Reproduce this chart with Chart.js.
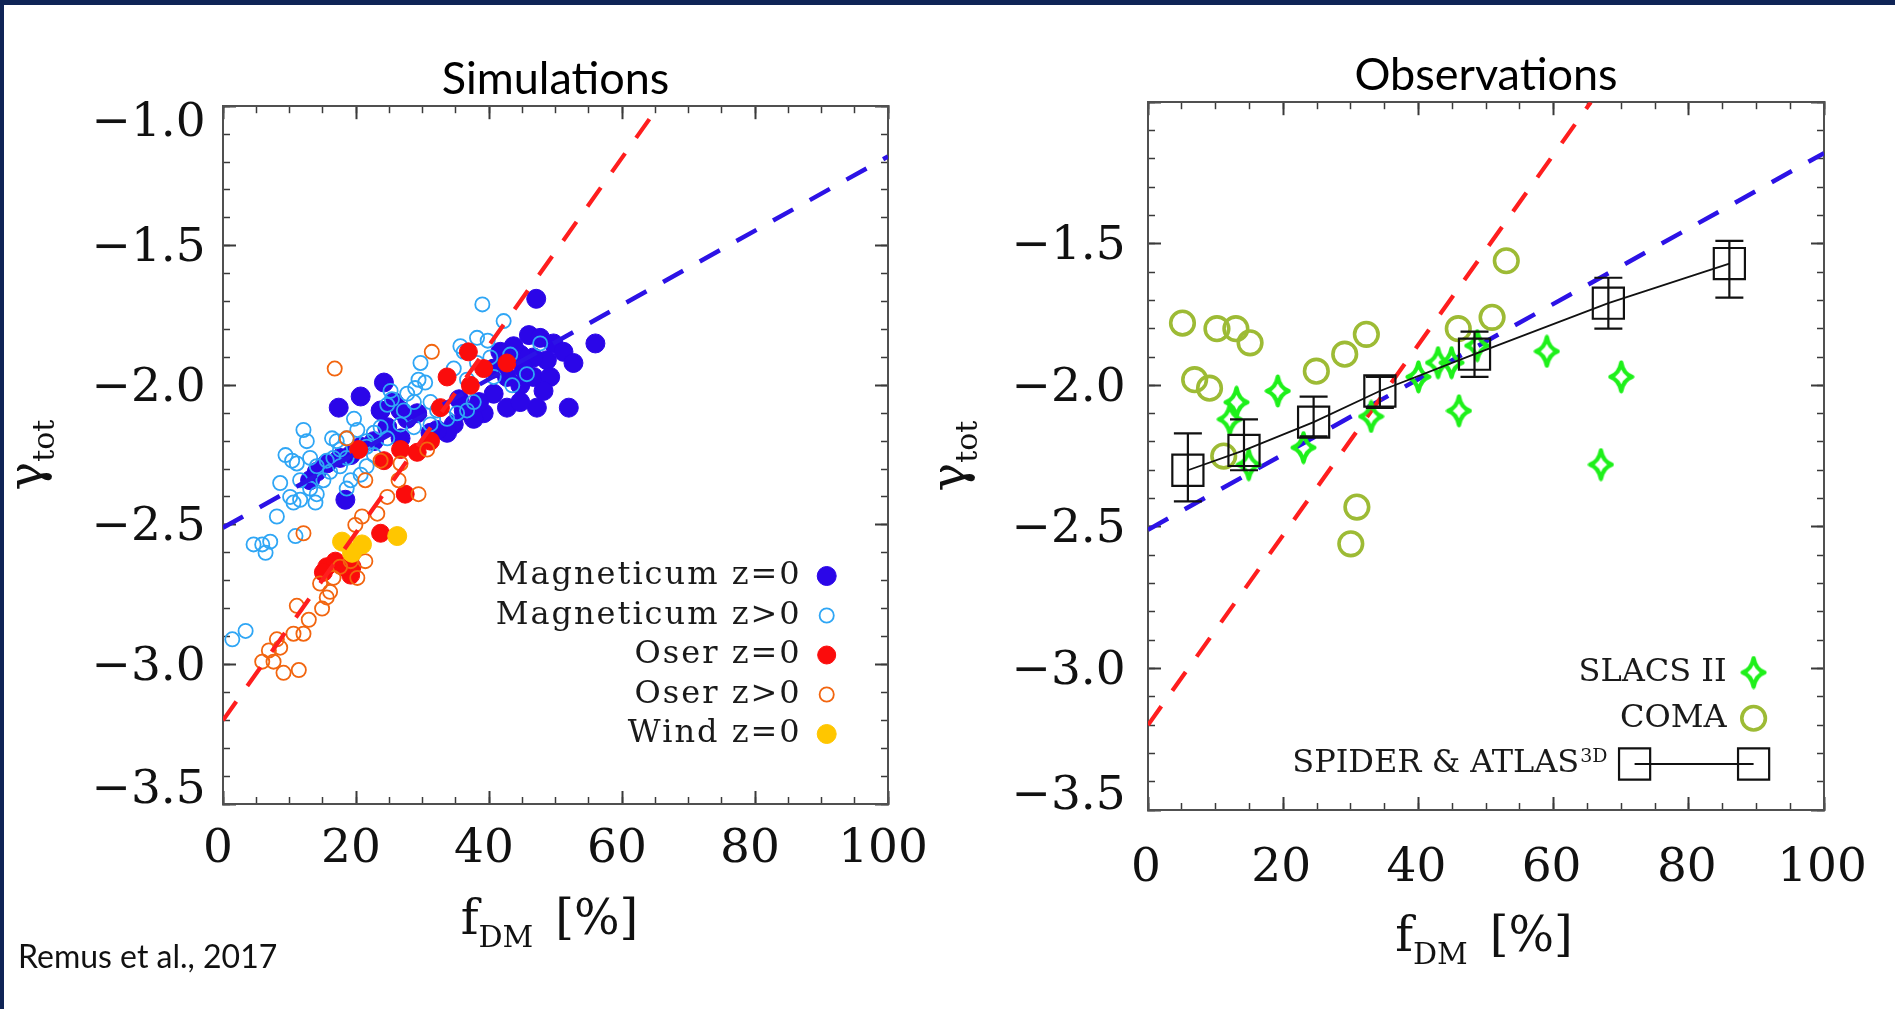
<!DOCTYPE html>
<html>
<head>
<meta charset="utf-8">
<script src="https://cdn.jsdelivr.net/npm/chart.js@4.4.1/dist/chart.umd.min.js"></script>
<style>
  html, body { margin: 0; padding: 0; background: #fff; width: 1895px; height: 1009px; overflow: hidden; }
  canvas { position: absolute; top: 0; }
  #edgeTop { position: absolute; left: 0; top: 0; width: 1895px; height: 5px; background: #0f2456; }
  #edgeLeft { position: absolute; left: 0; top: 0; width: 4px; height: 1009px; background: #0f2456; }
  #cite { position: absolute; left: 18px; top: 940px; font-family: Lato, 'Open Sans', sans-serif; font-size: 32px; line-height: 32px; color: #111; white-space: nowrap; }
</style>
</head>
<body>
<canvas id="sim" width="1000" height="1009" style="left:0"></canvas>
<canvas id="obs" width="1000" height="1009" style="left:940px"></canvas>
<div id="edgeTop"></div>
<div id="edgeLeft"></div>
<div id="cite">Remus et al., 2017</div>
<script>
// ---- axes ----
const X_MIN = 0, X_MAX = 100;
const Y_MIN = -3.5, Y_MAX = -1.0;
const xTickValues = [0, 20, 40, 60, 80, 100];
const xTickLabels = ['0', '20', '40', '60', '80', '100'];
const yTickValues = [-3.5, -3.0, -2.5, -2.0, -1.5, -1.0];
const yTickLabelsSim = ['−3.5', '−3.0', '−2.5', '−2.0', '−1.5', '−1.0'];
const yTickLabelsObs = ['−3.5', '−3.0', '−2.5', '−2.0', '−1.5', ''];
const xTitle = { main: 'f', sub: 'DM', tail: '[%]' };
const yTitle = { main: 'γ', sub: 'tot' };

// ---- simulations: [f_DM (%), gamma_tot] ----
const magneticumZ0 = [
  [47.1,-1.69],[46.0,-1.82],[47.7,-1.83],[49.7,-1.85],[51.2,-1.88],[52.7,-1.92],[56.0,-1.85],
  [48.7,-1.91],[46.7,-1.90],[44.7,-1.89],[43.7,-1.86],[41.7,-1.88],[40.7,-1.94],[42.7,-1.97],
  [44.7,-2.00],[46.7,-1.97],[49.2,-1.97],[48.2,-2.02],[47.2,-2.08],[52.0,-2.08],[42.7,-2.08],
  [44.7,-2.06],[40.7,-2.03],[39.2,-2.10],[37.7,-2.12],[36.2,-2.09],[34.7,-2.14],[33.7,-2.17],
  [32.2,-2.16],[31.2,-2.17],[24.2,-1.99],[20.7,-2.04],[17.4,-2.08],[18.4,-2.41],[26.7,-2.09],
  [25.7,-2.06],[23.7,-2.09],[27.7,-2.12],[29.2,-2.10],[24.7,-2.15],[26.7,-2.19],[22.7,-2.20],
  [20.7,-2.22],[19.2,-2.25],[17.6,-2.26],[15.6,-2.28],[14.1,-2.31],[13.1,-2.34],[45.2,-1.94],
  [38.5,-2.06],[35.5,-2.05]
];
const magneticumZp = [
  [39.0,-1.71],[42.2,-1.77],[35.7,-1.86],[38.2,-1.83],[39.8,-1.84],[36.2,-1.88],[34.7,-1.94],
  [36.7,-1.98],[38.2,-1.92],[40.2,-1.90],[40.7,-1.97],[43.5,-2.00],[45.7,-1.96],[47.7,-1.85],
  [43.2,-1.89],[29.7,-1.92],[29.4,-1.98],[30.4,-1.99],[28.9,-2.01],[25.2,-2.02],[25.4,-2.05],
  [24.7,-2.07],[27.2,-2.09],[28.7,-2.06],[27.7,-2.03],[31.2,-2.06],[32.2,-2.09],[33.7,-2.12],
  [35.2,-2.10],[36.7,-2.09],[37.7,-2.06],[26.7,-2.14],[28.7,-2.15],[31.2,-2.14],[23.7,-2.15],
  [22.7,-2.17],[21.6,-2.20],[24.7,-2.19],[19.7,-2.12],[18.6,-2.19],[20.2,-2.16],[12.1,-2.16],
  [12.6,-2.20],[16.4,-2.19],[17.1,-2.20],[9.4,-2.25],[10.4,-2.27],[11.1,-2.28],[13.1,-2.26],
  [14.1,-2.29],[15.6,-2.27],[16.6,-2.26],[17.6,-2.23],[18.6,-2.26],[20.2,-2.23],[21.6,-2.22],
  [22.7,-2.25],[11.6,-2.34],[13.1,-2.37],[14.1,-2.39],[13.9,-2.42],[11.6,-2.41],[10.1,-2.40],
  [10.6,-2.42],[8.6,-2.35],[15.1,-2.34],[16.1,-2.31],[17.6,-2.29],[19.2,-2.34],[20.7,-2.32],
  [21.6,-2.29],[18.6,-2.37],[8.1,-2.47],[10.9,-2.54],[4.6,-2.57],[5.9,-2.57],[7.1,-2.56],
  [6.4,-2.60],[1.4,-2.91],[3.4,-2.88]
];
const oserZ0 = [
  [36.9,-1.88],[39.2,-1.94],[42.7,-1.92],[33.7,-1.97],[37.2,-2.00],[32.7,-2.08],[31.2,-2.20],
  [29.2,-2.24],[26.7,-2.23],[24.2,-2.27],[20.4,-2.23],[27.4,-2.39],[23.7,-2.53],[15.6,-2.65],
  [16.9,-2.63],[19.2,-2.68],[19.4,-2.65],[15.1,-2.67],[18.1,-2.65]
];
const oserZp = [
  [31.4,-1.88],[16.8,-1.94],[18.6,-2.19],[21.4,-2.34],[23.7,-2.27],[26.7,-2.28],[30.7,-2.23],
  [26.4,-2.34],[24.7,-2.40],[29.4,-2.39],[23.2,-2.46],[20.9,-2.47],[19.9,-2.50],[12.1,-2.53],
  [21.4,-2.63],[17.6,-2.65],[16.6,-2.69],[14.6,-2.71],[16.1,-2.74],[15.6,-2.76],[14.9,-2.80],
  [11.1,-2.79],[12.9,-2.84],[10.6,-2.89],[12.1,-2.89],[8.1,-2.91],[8.6,-2.94],[6.9,-2.95],
  [5.9,-2.99],[7.6,-2.99],[9.1,-3.03],[11.4,-3.02],[19.2,-2.63],[20.2,-2.69]
];
const windZ0 = [[17.9,-2.56],[19.4,-2.60],[20.9,-2.57],[26.2,-2.54]];

// ---- reference relations (same in both panels) ----
const relationShallow = [[0,-2.51],[100,-1.18]];
const relationSteep = [[0,-3.20],[65.5,-1.00]];

// ---- observations ----
const slacsII = [
  [13.1,-2.06],[12.1,-2.12],[19.2,-2.02],[14.9,-2.28],[23.0,-2.22],[33.0,-2.11],[40.0,-1.97],
  [42.9,-1.92],[44.9,-1.92],[48.7,-1.86],[46.0,-2.09],[59.0,-1.88],[70.0,-1.97],[67.0,-2.28]
];
const coma = [
  [5.1,-1.78],[10.2,-1.80],[13.0,-1.80],[15.1,-1.85],[6.9,-1.98],[9.1,-2.01],[11.2,-2.25],
  [24.9,-1.95],[29.1,-1.89],[32.3,-1.82],[30.9,-2.43],[30.0,-2.56],[45.9,-1.80],[50.9,-1.76],
  [53.0,-1.56]
];
const spiderF = [5.9, 14.2, 24.5, 34.3, 48.3, 68.1, 86.0];
const spiderGamma = [-2.30, -2.23, -2.13, -2.02, -1.89, -1.71, -1.57];
const spiderHi = [-2.17, -2.12, -2.04, -1.97, -1.81, -1.62, -1.49];
const spiderLo = [-2.41, -2.30, -2.18, -2.08, -1.97, -1.80, -1.69];

// ---- styling ----
const COLORS = {
  magZ0: '#2b06e8', magZp: '#2fa6f5', oserZ0: '#fb0c0c', oserZp: '#f2650f', wind: '#ffc600',
  shallow: '#2c12e6', steep: '#ff1e1e', slacs: '#1ef01a', coma: '#9dbb35', spider: '#111111'
};
const SERIF = "'DejaVu Serif', serif";
const AXIS_COLOR = '#505050', TICK_COLOR = '#3a3a3a';
const MAJOR_LEN = 13, MINOR_LEN = 7;
const TICK_FONT = { family: SERIF, size: 47 };
const CLEAR = 'rgba(0,0,0,0)';

Chart.defaults.font.family = SERIF;

const toXY = arr => arr.map(([x, y]) => ({ x, y }));

function evenTicks(min, max, step) {
  const out = [];
  const n = Math.round((max - min) / step);
  for (let k = 0; k <= n; k++) out.push({ value: +(min + k * step).toFixed(6) });
  return out;
}

// four-point star used for the lensing sample
function makeStar(w, h, lw, color) {
  const c = document.createElement('canvas');
  c.width = w; c.height = h;
  const g = c.getContext('2d');
  const cx = w / 2, cy = h / 2, rx = w / 2 - lw / 2 - 0.5, ry = h / 2 - lw / 2 - 0.5, k = 0.2;
  g.beginPath();
  g.moveTo(cx, cy - ry);
  g.quadraticCurveTo(cx + rx * k, cy - ry * k, cx + rx, cy);
  g.quadraticCurveTo(cx + rx * k, cy + ry * k, cx, cy + ry);
  g.quadraticCurveTo(cx - rx * k, cy + ry * k, cx - rx, cy);
  g.quadraticCurveTo(cx - rx * k, cy - ry * k, cx, cy - ry);
  g.closePath();
  g.lineWidth = lw; g.lineJoin = 'round'; g.strokeStyle = color; g.stroke();
  return c;
}

// boxed frame: labelled bottom/left axes plus mirrored tick marks on all four sides
function frameScales(p) {
  const mark = (len, w) => ({ drawOnChartArea: false, drawTicks: true, tickLength: -len, tickWidth: w, tickColor: TICK_COLOR });
  const frame = { display: true, color: AXIS_COLOR, width: 2 };
  const hidden = { display: false };
  const zeroH = s => { s.height = 0; };
  const zeroW = s => { s.width = 0; };
  const xr = { type: 'linear', axis: 'x', min: X_MIN, max: X_MAX };
  const yr = { type: 'linear', axis: 'y', min: Y_MIN, max: Y_MAX };
  const xMajor = s => { s.ticks = xTickValues.map(v => ({ value: v })); };
  const yMajor = s => { s.ticks = yTickValues.map(v => ({ value: v })); };
  const xMinor = s => { s.ticks = evenTicks(X_MIN, X_MAX, 5); };
  const yMinor = s => { s.ticks = evenTicks(Y_MIN, Y_MAX, 0.1); };
  return {
    x: { ...xr, position: 'bottom', weight: 1, afterBuildTicks: xMajor,
      ticks: { font: TICK_FONT, color: '#111', padding: p.xPad, labelOffset: p.xOff, autoSkip: false, maxRotation: 0, minRotation: 0,
        callback: v => xTickLabels[xTickValues.indexOf(v)] },
      grid: mark(MAJOR_LEN, 2), border: frame, afterFit: s => { s.height = 100; } },
    xMinor: { ...xr, position: 'bottom', weight: 0, afterBuildTicks: xMinor, ticks: { display: false },
      grid: mark(MINOR_LEN, 1.5), border: hidden, afterFit: zeroH },
    xTop: { ...xr, position: 'top', weight: 1, afterBuildTicks: xMajor, ticks: { display: false },
      grid: mark(MAJOR_LEN, 2), border: frame, afterFit: zeroH },
    xTopMinor: { ...xr, position: 'top', weight: 0, afterBuildTicks: xMinor, ticks: { display: false },
      grid: mark(MINOR_LEN, 1.5), border: hidden, afterFit: zeroH },
    y: { ...yr, position: 'left', weight: 1, afterBuildTicks: yMajor,
      ticks: { font: TICK_FONT, color: '#111', padding: p.yPad, autoSkip: false,
        callback: v => p.yLabels[yTickValues.indexOf(v)] },
      grid: mark(MAJOR_LEN, 2), border: frame, afterFit: s => { s.width = 200; } },
    yMinor: { ...yr, position: 'left', weight: 0, afterBuildTicks: yMinor, ticks: { display: false },
      grid: mark(MINOR_LEN, 1.5), border: hidden, afterFit: zeroW },
    yRight: { ...yr, position: 'right', weight: 1, afterBuildTicks: yMajor, ticks: { display: false },
      grid: mark(MAJOR_LEN, 2), border: frame, afterFit: zeroW },
    yRightMinor: { ...yr, position: 'right', weight: 0, afterBuildTicks: yMinor, ticks: { display: false },
      grid: mark(MINOR_LEN, 1.5), border: hidden, afterFit: zeroW }
  };
}

// keep the end labels of the gamma axis inside the frame
const yLabelNudge = {
  id: 'yLabelNudge',
  beforeDraw(chart) {
    const s = chart.scales.y;
    if (!s || typeof s.getLabelItems !== 'function') return;
    const a = chart.chartArea;
    s.getLabelItems().forEach(it => {
      if (it._nudged) return;
      const t = it.options.translation;
      t[1] = Math.min(Math.max(t[1] + 3, a.top + 18), a.bottom - 13);
      it._nudged = true;
    });
  }
};

const errorBars = {
  id: 'errorBars',
  afterDatasetsDraw(chart) {
    const ctx = chart.ctx;
    chart.data.datasets.forEach(d => {
      if (!d.errLo) return;
      const xs = chart.scales.x, ys = chart.scales.y;
      ctx.save();
      ctx.strokeStyle = d.borderColor; ctx.lineWidth = 2.2;
      d.data.forEach((p, i) => {
        const x = xs.getPixelForValue(p.x);
        const y1 = ys.getPixelForValue(d.errHi[i]), y2 = ys.getPixelForValue(d.errLo[i]);
        ctx.beginPath();
        ctx.moveTo(x, y1); ctx.lineTo(x, y2);
        ctx.moveTo(x - 14, y1); ctx.lineTo(x + 14, y1);
        ctx.moveTo(x - 14, y2); ctx.lineTo(x + 14, y2);
        ctx.stroke();
      });
      ctx.restore();
    });
  }
};

function drawMarker(ctx, d, x, y) {
  ctx.save();
  ctx.fillStyle = d.pointBackgroundColor;
  ctx.strokeStyle = d.pointBorderColor;
  ctx.lineWidth = d.pointBorderWidth;
  Chart.helpers.drawPoint(ctx, { pointStyle: d.pointStyle, radius: d.pointRadius, borderWidth: d.pointBorderWidth, rotation: 0 }, x, y);
  ctx.restore();
}

// axis titles with subscripts, and the in-frame legend
const panelDecor = {
  id: 'panelDecor',
  afterDraw(chart, args, o) {
    const ctx = chart.ctx, a = chart.chartArea;
    const big = '48px ' + SERIF, small = '30px ' + SERIF;
    ctx.save();
    ctx.fillStyle = '#111';
    ctx.textBaseline = 'alphabetic';
    ctx.textAlign = 'left';

    // x title
    ctx.font = big;
    const w1 = ctx.measureText(xTitle.main).width, w3 = ctx.measureText(xTitle.tail).width;
    ctx.font = small;
    const w2 = ctx.measureText(xTitle.sub).width;
    const gap = 22;
    let x0 = (a.left + a.right) / 2 + o.xTitleShift - (w1 + w2 + gap + w3) / 2;
    const yb = a.bottom + o.xTitleBase;
    ctx.font = big; ctx.fillText(xTitle.main, x0, yb);
    ctx.font = small; ctx.fillText(xTitle.sub, x0 + w1, yb + 13);
    ctx.font = big; ctx.fillText(xTitle.tail, x0 + w1 + w2 + gap, yb);

    // y title, rotated
    ctx.save();
    ctx.translate(a.left - o.yTitleGap, (a.top + a.bottom) / 2);
    ctx.rotate(-Math.PI / 2);
    ctx.font = big;
    const g1 = ctx.measureText(yTitle.main).width;
    ctx.font = small;
    const g2 = ctx.measureText(yTitle.sub).width;
    const s0 = -(g1 + g2) / 2;
    ctx.font = big; ctx.fillText(yTitle.main, s0, 0);
    ctx.font = small; ctx.fillText(yTitle.sub, s0 + g1, 12);
    ctx.restore();

    // legend
    const L = o.legend;
    const rows = chart.data.datasets.filter(d => d.inLegend);
    ctx.textAlign = 'right';
    ctx.textBaseline = 'middle';
    rows.forEach((d, i) => {
      const y = a.bottom - L.firstRow + i * L.rowGap;
      const mx = a.right - L.markerFromRight;
      let textRight = mx - L.textGap;
      if (d.legendLink) {
        const x1 = mx - L.linkSpan;
        ctx.save();
        ctx.strokeStyle = d.borderColor; ctx.lineWidth = d.borderWidth;
        ctx.beginPath(); ctx.moveTo(x1, y); ctx.lineTo(mx, y); ctx.stroke();
        ctx.restore();
        drawMarker(ctx, d, x1, y);
        drawMarker(ctx, d, mx, y);
        textRight = x1 - L.textGap;
      } else {
        drawMarker(ctx, d, mx, y);
      }
      ctx.fillStyle = '#1a1a1a';
      if ('letterSpacing' in ctx) ctx.letterSpacing = L.spacing;
      if (d.labelSup) {
        ctx.font = L.supFont;
        const sw = ctx.measureText(d.labelSup).width;
        ctx.textBaseline = 'alphabetic';
        ctx.fillText(d.labelSup, textRight, y + L.supRaise);
        ctx.textBaseline = 'middle';
        ctx.font = L.font;
        ctx.fillText(d.label, textRight - sw - 1, y);
      } else {
        ctx.font = L.font;
        ctx.fillText(d.label, textRight, y);
      }
      if ('letterSpacing' in ctx) ctx.letterSpacing = '0px';
    });
    ctx.restore();
  }
};

function baseOptions(p) {
  return {
    responsive: false,
    animation: false,
    devicePixelRatio: 1,
    events: [],
    layout: { padding: p.padding },
    scales: frameScales(p),
    plugins: {
      legend: { display: false },
      tooltip: { enabled: false },
      title: { display: true, text: p.title, fullSize: false, color: '#000',
        font: { family: 'Lato, "Open Sans", sans-serif', size: 45, weight: 'normal', lineHeight: 1.2 },
        padding: { top: 0, bottom: 0 } },
      panelDecor: p.decor
    }
  };
}

// ---- left panel: simulations ----
const ring = (color, order, label, data) => ({
  label, inLegend: true, data: toXY(data), order,
  pointStyle: 'circle', pointRadius: 7.1, pointBorderWidth: 1.8,
  pointBackgroundColor: CLEAR, pointBorderColor: color, backgroundColor: CLEAR, borderColor: color
});
const dot = (color, order, label, data, r) => ({
  label, inLegend: true, data: toXY(data), order,
  pointStyle: 'circle', pointRadius: r, pointBorderWidth: 1,
  pointBackgroundColor: color, pointBorderColor: color, backgroundColor: color, borderColor: color
});
const relation = (color, data, order, width) => ({
  data: toXY(data), order, showLine: true, pointRadius: 0, borderColor: color, borderWidth: width,
  borderDash: [23, 19], borderCapStyle: 'butt', fill: false, tension: 0
});

new Chart(document.getElementById('sim'), {
  type: 'scatter',
  data: {
    datasets: [
      dot(COLORS.magZ0, 6, 'Magneticum z=0', magneticumZ0, 9.5),
      ring(COLORS.magZp, 5, 'Magneticum z>0', magneticumZp),
      dot(COLORS.oserZ0, 4, 'Oser z=0', oserZ0, 9),
      ring(COLORS.oserZp, 3, 'Oser z>0', oserZp),
      dot(COLORS.wind, 2, 'Wind z=0', windZ0, 9.5),
      relation(COLORS.shallow, relationShallow, 1, 4.5),
      relation(COLORS.steep, relationSteep, 0, 4.2)
    ]
  },
  options: baseOptions({
    title: 'Simulations',
    padding: { left: 23, right: 112, top: 52.2, bottom: 105 },
    xPad: 30.7, xOff: -5, yPad: 30.3, yLabels: yTickLabelsSim,
    decor: {
      xTitleShift: -6, xTitleBase: 130, yTitleGap: 181,
      legend: { firstRow: 228, rowGap: 39.5, markerFromRight: 61.3, textGap: 25, linkSpan: 0,
        font: '32px ' + SERIF, spacing: '2px', supFont: '19px ' + SERIF, supRaise: 0 }
    }
  }),
  plugins: [yLabelNudge, panelDecor]
});

// ---- right panel: observations ----
const star = makeStar(27, 34, 4.2, COLORS.slacs);

new Chart(document.getElementById('obs'), {
  type: 'scatter',
  data: {
    datasets: [
      { label: 'SLACS II', inLegend: true, data: toXY(slacsII), order: 2,
        pointStyle: star, pointRadius: 13, pointBorderWidth: 0,
        pointBackgroundColor: CLEAR, pointBorderColor: COLORS.slacs, borderColor: COLORS.slacs },
      { label: 'COMA', inLegend: true, data: toXY(coma), order: 5,
        pointStyle: 'circle', pointRadius: 11.8, pointBorderWidth: 3.6,
        pointBackgroundColor: CLEAR, pointBorderColor: COLORS.coma, borderColor: COLORS.coma },
      { label: 'SPIDER & ATLAS', labelSup: '3D', inLegend: true, legendLink: true,
        data: spiderF.map((f, i) => ({ x: f, y: spiderGamma[i] })), errLo: spiderLo, errHi: spiderHi, order: 1,
        showLine: true, borderColor: COLORS.spider, borderWidth: 1.8, tension: 0, fill: false,
        pointStyle: 'rect', pointRadius: 22, pointBorderWidth: 2.2,
        pointBackgroundColor: CLEAR, pointBorderColor: COLORS.spider },
      relation(COLORS.shallow, relationShallow, 4, 4.5),
      relation(COLORS.steep, relationSteep, 3, 4.2)
    ]
  },
  options: baseOptions({
    title: 'Observations',
    padding: { left: 8, right: 116, top: 48.2, bottom: 99 },
    xPad: 44, xOff: -2, yPad: 35.3, yLabels: yTickLabelsObs,
    decor: {
      xTitleShift: -2, xTitleBase: 141, yTitleGap: 183,
      legend: { firstRow: 137.5, rowGap: 45.75, markerFromRight: 70.4, textGap: 27, linkSpan: 119,
        font: '32px ' + SERIF, spacing: '0px', supFont: '19px ' + SERIF, supRaise: -2 }
    }
  }),
  plugins: [yLabelNudge, errorBars, panelDecor]
});
</script>
</body>
</html>
